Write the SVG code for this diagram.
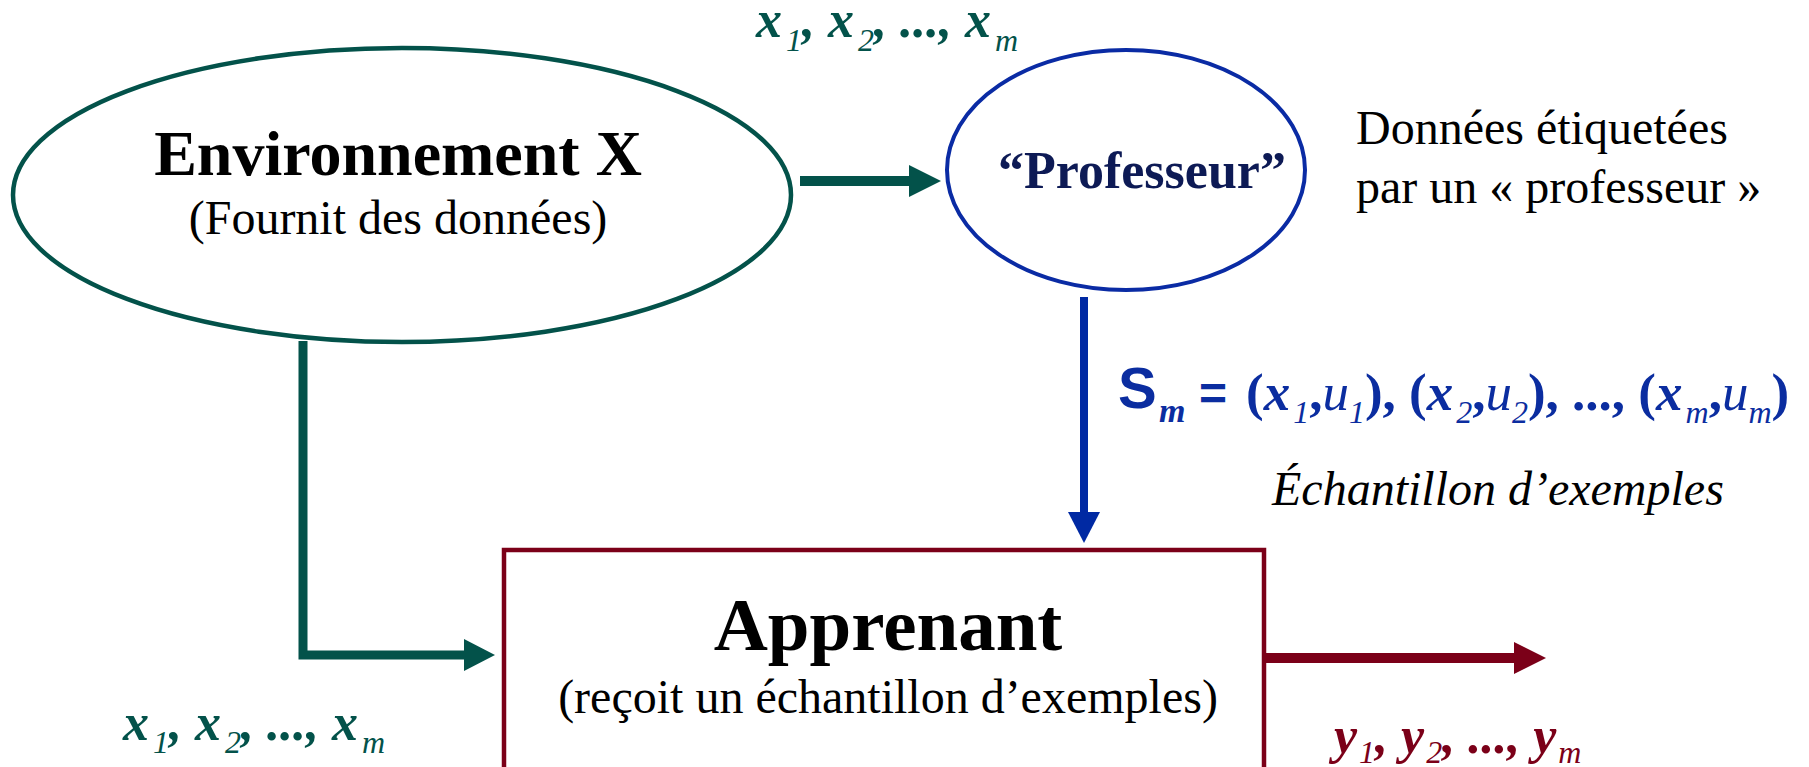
<svg xmlns="http://www.w3.org/2000/svg" width="1809" height="767" viewBox="0 0 1809 767">
<style>
.serif{font-family:"Liberation Serif","Times New Roman",serif}
.sans{font-family:"Liberation Sans",Arial,sans-serif;font-weight:bold}
.b{font-weight:bold}
.i{font-style:italic}
.bi{font-weight:bold;font-style:italic}
.green{fill:#03524a}
.blue{fill:#0b2da0}
.red{fill:#7b0018}
.sub{font-size:32px;font-style:italic;font-weight:normal}
</style>
<rect width="1809" height="767" fill="#ffffff"/>
<g id="connectors">
  <path d="M800,181 H910" stroke="#03524a" stroke-width="10" fill="none"/>
  <polygon points="909,165 941,181 909,197" fill="#03524a"/>
  <path d="M303,341 V655 H465" stroke="#03524a" stroke-width="9" fill="none"/>
  <polygon points="464,639 495,655 464,671" fill="#03524a"/>
  <path d="M1084,297 V513" stroke="#0029a3" stroke-width="8" fill="none"/>
  <polygon points="1068,512 1084,543 1100,512" fill="#0029a3"/>
  <path d="M1264,658 H1515" stroke="#7b0018" stroke-width="10" fill="none"/>
  <polygon points="1514,642 1546,658 1514,674" fill="#7b0018"/>
</g>
<g id="environnement">
  <ellipse cx="402" cy="195" rx="389" ry="147" fill="#ffffff" stroke="#03524a" stroke-width="4.5"/>
  <text x="398" y="175" class="serif b" font-size="64" text-anchor="middle" fill="#000">Environnement X</text>
  <text x="398" y="234" class="serif" font-size="48" text-anchor="middle" fill="#000">(Fournit des données)</text>
</g>
<g id="professeur">
  <ellipse cx="1126" cy="170" rx="179" ry="120" fill="#ffffff" stroke="#0a2ba4" stroke-width="4"/>
  <text x="1142" y="188" class="serif b" font-size="52" text-anchor="middle" fill="#0d1a55">“Professeur”</text>
</g>
<g id="apprenant">
  <rect x="504" y="550" width="760" height="250" fill="#ffffff" stroke="#7b0018" stroke-width="4.5"/>
  <text x="888" y="650" class="serif b" font-size="75" text-anchor="middle" fill="#000">Apprenant</text>
  <text x="888" y="713" class="serif" font-size="48" text-anchor="middle" fill="#000">(reçoit un échantillon d’exemples)</text>
</g>
<g id="labels">
  <text x="1356" y="144" class="serif" font-size="48" fill="#000">Données étiquetées</text>
  <text x="1356" y="203" class="serif" font-size="48" fill="#000">par un « professeur »</text>
  <text x="756" y="37" class="serif green" font-size="52"><tspan class="bi">x</tspan><tspan class="sub" dx="4" dy="14">1</tspan><tspan class="bi" dy="-14">, x</tspan><tspan class="sub" dx="4" dy="14">2</tspan><tspan class="bi" dy="-14">, ..., x</tspan><tspan class="sub" dx="4" dy="14">m</tspan></text>
  <text x="123" y="740" class="serif green" font-size="52"><tspan class="bi">x</tspan><tspan class="sub" dx="4" dy="13">1</tspan><tspan class="bi" dy="-13">, x</tspan><tspan class="sub" dx="4" dy="13">2</tspan><tspan class="bi" dy="-13">, ..., x</tspan><tspan class="sub" dx="4" dy="13">m</tspan></text>
  <text x="1334" y="753" class="serif red" font-size="52"><tspan class="bi">y</tspan><tspan class="sub b" dx="2" dy="10">1</tspan><tspan class="bi" dy="-10">, y</tspan><tspan class="sub b" dx="2" dy="10">2</tspan><tspan class="bi" dy="-10">, ..., y</tspan><tspan class="sub b" dx="2" dy="10">m</tspan></text>
  <text x="1118" y="408" class="sans blue" font-size="58">S</text>
  <text x="1159" y="422" class="serif bi blue" font-size="34">m</text>
  <text x="1199" y="410" class="sans blue" font-size="48">=</text>
  <text x="1246" y="410" class="serif blue" font-size="53"><tspan class="b">(</tspan><tspan class="bi">x</tspan><tspan class="sub" dx="3" dy="13">1</tspan><tspan class="b" dy="-13">,</tspan><tspan class="i">u</tspan><tspan class="sub" dy="13">1</tspan><tspan class="b" dy="-13">), (</tspan><tspan class="bi">x</tspan><tspan class="sub" dx="3" dy="13">2</tspan><tspan class="b" dy="-13">,</tspan><tspan class="i">u</tspan><tspan class="sub" dy="13">2</tspan><tspan class="b" dy="-13">), ..., (</tspan><tspan class="bi">x</tspan><tspan class="sub" dx="3" dy="13">m</tspan><tspan class="b" dy="-13">,</tspan><tspan class="i">u</tspan><tspan class="sub" dy="13">m</tspan><tspan class="b" dy="-13">)</tspan></text>
  <text x="1272" y="505" class="serif i" font-size="48" fill="#000">Échantillon d’exemples</text>
</g>
</svg>
